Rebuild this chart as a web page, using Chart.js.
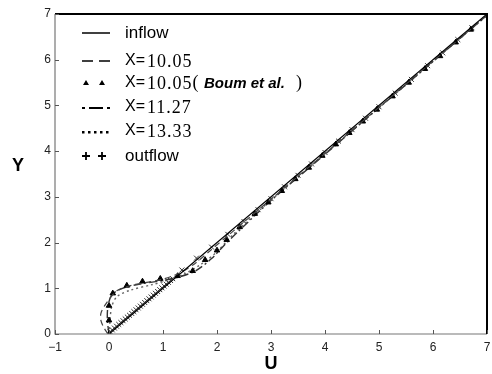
<!DOCTYPE html>
<html><head><meta charset="utf-8">
<script src="https://cdn.jsdelivr.net/npm/chart.js@4"></script>
<style>html,body{margin:0;padding:0;background:#fff}#wrap{width:492px;height:374px}</style>
</head><body><div id="wrap"><canvas id="c" width="492" height="374"></canvas></div>
<script>
const xTicks = [-1,0,1,2,3,4,5,6,7];
const yTicks = [0,1,2,3,4,5,6,7];
const legendLabels = ["inflow","X=10.05","X=10.05","X=11.27","X=13.33","outflow"];

const inflowU = [0, 7];
const inflowY = [0, 7];

const x1005U = [-0.02,-0.1,-0.15,-0.15,-0.08,0.03,0.15,0.4,0.7,1.0,1.3,1.6,1.9,2.2,2.5,3.0,4.0,5.0,6.0,7.0];
const x1005Y = [0,0.15,0.3,0.45,0.62,0.8,0.95,1.06,1.13,1.2,1.33,1.55,1.85,2.15,2.45,2.95,3.95,4.96,5.97,6.97];

const boumU = [0,0,0,0.07,0.33,0.62,0.95,1.27,1.55,1.78,2.0,2.18,2.42,2.7,2.95,3.2,3.45,3.7,3.95,4.2,4.45,4.7,4.96,5.25,5.55,5.85,6.13,6.42,6.7];
const boumY = [0,0.3,0.62,0.89,1.06,1.15,1.21,1.27,1.38,1.62,1.83,2.06,2.34,2.63,2.88,3.13,3.39,3.64,3.9,4.15,4.4,4.65,4.91,5.2,5.5,5.8,6.08,6.38,6.66];

const x1127U = [0,-0.03,-0.02,0.05,0.25,0.6,1.0,1.3,1.6,1.9,2.1,2.4,3.0,4.0,5.0,6.0,7.0];
const x1127Y = [0,0.3,0.6,0.85,1.0,1.1,1.17,1.25,1.38,1.65,1.9,2.25,2.92,3.93,4.95,5.96,6.97];

const x1333U = [0,0.02,0.05,0.15,0.4,0.8,1.1,1.4,1.7,2.0,2.3,3.0,5.0,7.0];
const x1333Y = [0,0.3,0.6,0.82,0.96,1.08,1.18,1.32,1.52,1.8,2.18,2.93,4.95,6.97];

const outflowU = [0.02,0.06,0.1,0.14,0.18,0.22,0.26,0.3,0.34,0.38,0.42,0.46,0.5,0.54,0.58,0.62,0.66,0.7,0.74,0.78,0.82,0.86,0.9,0.94,0.98,1.02,1.06,1.1,1.14,1.18,1.35,1.62,1.9,2.2,2.5,2.76,3.0,3.25,3.5,3.75,4.0,4.25,4.5,4.75,5.0,5.3,5.6,5.9,6.18,6.46,6.72];
const outflowY = [0.05,0.09,0.13,0.17,0.21,0.25,0.29,0.33,0.37,0.41,0.45,0.49,0.53,0.57,0.61,0.65,0.69,0.73,0.77,0.81,0.85,0.89,0.93,0.97,1.01,1.05,1.09,1.13,1.17,1.21,1.4,1.66,1.9,2.18,2.46,2.72,2.96,3.22,3.47,3.72,3.97,4.22,4.47,4.72,4.97,5.27,5.57,5.87,6.15,6.44,6.7];

const pts = (u, y) => u.map((v, i) => ({x: v, y: y[i]}));

const overlay = {
  id: 'overlay',
  afterDraw(chart) {
    const ctx = chart.ctx, a = chart.chartArea;
    const xs = chart.scales.x, ys = chart.scales.y;
    ctx.save();
    ctx.strokeStyle = '#777'; ctx.lineWidth = 1.2;
    ctx.beginPath(); ctx.moveTo(a.left, a.top); ctx.lineTo(a.left, a.bottom); ctx.lineTo(a.right, a.bottom); ctx.stroke();
    ctx.strokeStyle = '#000'; ctx.lineWidth = 2;
    ctx.beginPath(); ctx.moveTo(a.left, a.top); ctx.lineTo(a.right, a.top); ctx.lineTo(a.right, a.bottom); ctx.stroke();
    ctx.strokeStyle = '#555'; ctx.lineWidth = 1;
    xTicks.forEach(v => { const px = Math.round(xs.getPixelForValue(v)) + 0.5; ctx.beginPath(); ctx.moveTo(px, a.bottom); ctx.lineTo(px, a.bottom - 4); ctx.stroke(); });
    yTicks.forEach(v => { const py = Math.round(ys.getPixelForValue(v)) + 0.5; ctx.beginPath(); ctx.moveTo(a.left, py); ctx.lineTo(a.left + 4, py); ctx.stroke(); });
    ctx.fillStyle = '#000';
    ctx.font = 'bold 18px "Liberation Sans", Arial, sans-serif';
    ctx.textAlign = 'center'; ctx.textBaseline = 'middle';
    ctx.fillText('Y', 18, 166);
    ctx.fillText('U', 271, 364);
    ctx.textAlign = 'left';
    const tx = 125;
    ctx.strokeStyle = '#000'; ctx.fillStyle = '#000'; ctx.lineWidth = 1.5;
    ctx.beginPath(); ctx.moveTo(82, 33); ctx.lineTo(110, 33); ctx.stroke();
    ctx.font = '17px "Liberation Sans", Arial, sans-serif';
    ctx.fillText(legendLabels[0], tx, 33);
    ctx.beginPath(); ctx.moveTo(82, 61); ctx.lineTo(93, 61); ctx.moveTo(99, 61); ctx.lineTo(110, 61); ctx.stroke();
    const drawX = (label, y) => {
      const num = label.slice(2);
      ctx.font = '16px "Liberation Sans", Arial, sans-serif';
      ctx.fillText('X=', tx, y);
      const w = ctx.measureText('X=').width;
      ctx.font = '18px "Liberation Serif", "Times New Roman", serif';
      ctx.letterSpacing = '1px';
      ctx.fillText(num, tx + w + 2, y + 1);
      const e = tx + w + 2 + ctx.measureText(num).width;
      ctx.letterSpacing = '0px';
      return e;
    };
    drawX(legendLabels[1], 61);
    [86, 102].forEach(px => { ctx.beginPath(); ctx.moveTo(px, 80); ctx.lineTo(px + 3, 85); ctx.lineTo(px - 3, 85); ctx.closePath(); ctx.fill(); });
    let end = drawX(legendLabels[2], 83);
    ctx.font = '18px "Liberation Serif", serif';
    ctx.fillText('(', end, 83);
    ctx.font = 'italic bold 15px "Liberation Sans", Arial, sans-serif';
    ctx.fillText('Boum et al.', 204, 84);
    ctx.font = '18px "Liberation Serif", serif';
    ctx.fillText(')', 296, 83);
    ctx.lineWidth = 2;
    ctx.beginPath(); ctx.moveTo(82, 108); ctx.lineTo(85, 108); ctx.moveTo(89, 108); ctx.lineTo(103, 108); ctx.moveTo(107, 108); ctx.lineTo(110, 108); ctx.stroke();
    drawX(legendLabels[3], 107);
    for (let i = 0; i < 5; i++) ctx.fillRect(82 + i * 6, 131, 2.5, 2.5);
    drawX(legendLabels[4], 131);
    ctx.lineWidth = 1.8;
    [86, 102].forEach(px => { ctx.beginPath(); ctx.moveTo(px - 4, 156); ctx.lineTo(px + 4, 156); ctx.moveTo(px, 152); ctx.lineTo(px, 160); ctx.stroke(); });
    ctx.font = '17px "Liberation Sans", Arial, sans-serif';
    ctx.fillText(legendLabels[5], tx, 156);
    ctx.restore();
  }
};

new Chart(document.getElementById('c'), {
  type: 'scatter',
  data: {
    datasets: [
      {label: 'inflow', data: pts(inflowU, inflowY), showLine: true, borderColor: '#000', borderWidth: 1.2, pointRadius: 0, tension: 0},
      {label: 'X=10.05', data: pts(x1005U, x1005Y), showLine: true, borderColor: '#444', borderWidth: 1.2, borderDash: [6, 4], pointRadius: 0, tension: 0.3},
      {label: 'X=10.05 (Boum et al.)', data: pts(boumU, boumY), showLine: false, backgroundColor: '#000', borderColor: '#000', pointStyle: 'triangle', pointRadius: 3.2},
      {label: 'X=11.27', data: pts(x1127U, x1127Y), showLine: true, borderColor: '#333', borderWidth: 1.4, borderDash: [8, 3, 2, 3], pointRadius: 0, tension: 0.3},
      {label: 'X=13.33', data: pts(x1333U, x1333Y), showLine: true, borderColor: '#666', borderWidth: 1.4, borderDash: [2, 3], pointRadius: 0, tension: 0.3},
      {label: 'outflow', data: pts(outflowU, outflowY), showLine: false, borderColor: '#333', borderWidth: 1, pointStyle: 'crossRot', pointRadius: 3.5}
    ]
  },
  options: {
    responsive: false, animation: false,
    layout: {padding: {top: 14, right: -1, left: 0, bottom: 0}},
    plugins: {legend: {display: false}, tooltip: {enabled: false}},
    scales: {
      x: {
        type: 'linear', min: -1, max: 7,
        afterBuildTicks: s => { s.ticks = xTicks.map(v => ({value: v})); },
        afterFit: s => { s.height = 40; s.paddingLeft = 0; s.paddingRight = 0; },
        grid: {display: false, drawTicks: false}, border: {display: false},
        ticks: {padding: 6, color: '#222', font: {family: '"Liberation Sans", Arial, sans-serif', size: 12}, callback: v => v < 0 ? '\u2212' + Math.abs(v) : String(v)}
      },
      y: {
        type: 'linear', min: 0, max: 7,
        afterBuildTicks: s => { s.ticks = yTicks.map(v => ({value: v})); },
        afterFit: s => { s.width = 55; s.paddingTop = 0; s.paddingBottom = 0; },
        grid: {display: false, drawTicks: false}, border: {display: false},
        ticks: {padding: 4, color: '#222', font: {family: '"Liberation Sans", Arial, sans-serif', size: 12}}
      }
    }
  },
  plugins: [overlay]
});
</script></body></html>
